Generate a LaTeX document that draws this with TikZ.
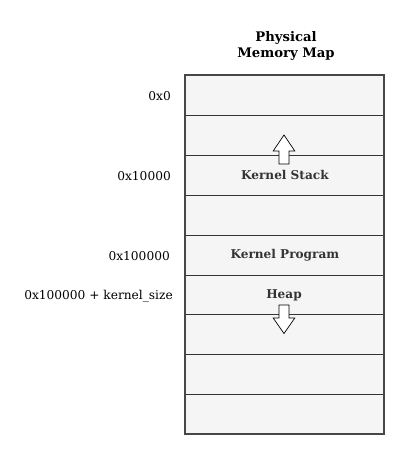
\documentclass[tikz,border=0pt]{standalone}
\usepackage{fontspec}
\setmainfont{DejaVu Serif}
\definecolor{cellfill}{HTML}{F5F5F5}
\definecolor{cellline}{HTML}{333333}
\definecolor{celltext}{HTML}{333333}
\tikzset{
	cell/.style={draw=cellline, line width=0.8pt, fill=cellfill, anchor=north west, minimum width=199pt, minimum height=39.9pt, inner sep=0pt, text=celltext, font=\fontsize{12.1}{14}\selectfont\bfseries},
	addr/.style={anchor=east, inner sep=0pt, font=\fontsize{12.2}{14}\selectfont},
	growarrow/.style={draw=black, fill=white, line width=0.7pt, line join=miter}
}
\begin{document}
\begin{tikzpicture}[x=1pt,y=-1pt]
		\useasboundingbox (0,0) rectangle (409,459);
		\node[font=\fontsize{13.2}{16}\selectfont\bfseries, align=center] (title) at (286,46) {Physical\\Memory Map};
		\node[cell] (row1) at (185,75) {};
		\node[cell] (row2) at (185,114.9) {};
		\node[cell] (row3) at (185,154.8) {Kernel Stack};
		\node[cell] (row4) at (185,194.7) {};
		\node[cell] (row5) at (185,234.6) {Kernel Program};
		\node[cell] (row6) at (185,274.5) {};
		\node[cell] (row7) at (185,314.4) {};
		\node[cell] (row8) at (185,354.3) {};
		\node[cell] (row9) at (185,394.2) {};
		\node[font=\fontsize{12.1}{14}\selectfont\bfseries, text=celltext] (heap) at (284,295.5) {Heap};
		\draw[cellline!90!white, line width=1.4pt] (185,75) rectangle (384,434.1);
		\filldraw[growarrow] (284,135) -- (294.8,151) -- (289,151) -- (289,164) -- (279,164) -- (279,151) -- (273.2,151) -- cycle;
		\filldraw[growarrow] (284,333.5) -- (294.8,318) -- (289,318) -- (289,305) -- (279,305) -- (279,318) -- (273.2,318) -- cycle;
		\node[addr] (a0) at (171,96) {0x0};
		\node[addr] (a1) at (171,176) {0x10000};
		\node[addr] (a2) at (170,256) {0x100000};
		\node[addr] (a3) at (173,296) {0x100000 + kernel\_size};
	\end{tikzpicture}
\end{document}
